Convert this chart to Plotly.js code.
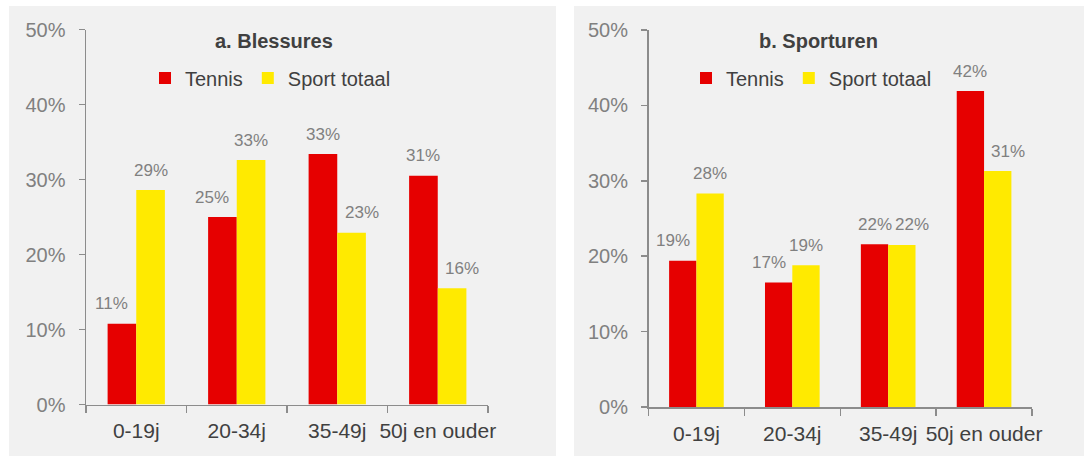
<!DOCTYPE html>
<html>
<head>
<meta charset="utf-8">
<script src="https://cdn.plot.ly/plotly-3.0.1.min.js"></script>
<style>
  html, body { margin: 0; padding: 0; background: #ffffff; }
  #chart { width: 1085px; height: 457px; }
</style>
</head>
<body>
<div id="chart"></div>
<script>
// Age groups shown on both panels
const ageGroups = ['0-19j', '20-34j', '35-49j', '50j en ouder'];

// Panel a: share of injuries per age group
const blessuresTennis = [0.1075, 0.250, 0.334, 0.305];
const blessuresTotaal = [0.286, 0.326, 0.229, 0.155];

// Panel b: share of sport hours per age group
const sporturenTennis = [0.194, 0.165, 0.216, 0.419];
const sporturenTotaal = [0.283, 0.188, 0.215, 0.313];

const seriesNames = ['Tennis', 'Sport totaal'];
const panelTitles = ['a. Blessures', 'b. Sporturen'];

const RED = '#e60000';
const YELLOW = '#ffea00';
const AXIS = '#8c8c8c';
const DARK = '#404040';
const GREY = '#808080';
const FONT = 'Liberation Sans, Arial, sans-serif';

const W = 1085, H = 457;
const px = v => v / W;           // horizontal pixel -> paper
const py = v => (H - v) / H;     // vertical pixel from top -> paper

const BARGAP = 0.43;

function bar(name, values, color, xa, ya, legendId) {
  return {
    type: 'bar', name: name, x: ageGroups, y: values,
    xaxis: xa, yaxis: ya, legend: legendId,
    marker: { color: color, line: { width: 0 } },
    hoverinfo: 'skip'
  };
}

const data = [
  bar(seriesNames[0], blessuresTennis, RED, 'x', 'y', 'legend'),
  bar(seriesNames[1], blessuresTotaal, YELLOW, 'x', 'y', 'legend'),
  bar(seriesNames[0], sporturenTennis, RED, 'x2', 'y2', 'legend2'),
  bar(seriesNames[1], sporturenTotaal, YELLOW, 'x2', 'y2', 'legend2')
];

// Value labels above each bar, centred on the bar's slot within its group.
// A label whose neighbouring bar is taller is pushed outwards (dir = -1 for
// the left bar, +1 for the right bar) so it clears that neighbour.
const half = (1 - BARGAP) / 4;   // centre of each bar, in category units
function valueLabels(values, other, dir, xref, yref) {
  return values.map((v, i) => ({
    x: i + dir * half, y: v, xref: xref, yref: yref,
    text: Math.round(v * 100) + '%',
    showarrow: false, yshift: 20, yanchor: 'middle', xanchor: 'center',
    xshift: other[i] > v ? dir * 10 : 0,
    font: { family: FONT, size: 17, color: GREY }
  }));
}

const annotations = []
  .concat(valueLabels(blessuresTennis, blessuresTotaal, -1, 'x', 'y'))
  .concat(valueLabels(blessuresTotaal, blessuresTennis, 1, 'x', 'y'))
  .concat(valueLabels(sporturenTennis, sporturenTotaal, -1, 'x2', 'y2'))
  .concat(valueLabels(sporturenTotaal, sporturenTennis, 1, 'x2', 'y2'));

annotations.push(
  { text: '<b>' + panelTitles[0] + '</b>', xref: 'paper', yref: 'paper',
    x: px(274), y: py(41), showarrow: false, xanchor: 'center', yanchor: 'middle',
    font: { family: FONT, size: 20, color: DARK } },
  { text: '<b>' + panelTitles[1] + '</b>', xref: 'paper', yref: 'paper',
    x: px(818), y: py(41), showarrow: false, xanchor: 'center', yanchor: 'middle',
    font: { family: FONT, size: 20, color: DARK } }
);

function xAxis(domain, anchor) {
  return {
    domain: domain, anchor: anchor, type: 'category',
    showline: true, linecolor: AXIS, linewidth: 1.5,
    ticks: 'outside', tickson: 'boundaries', ticklen: 7, tickcolor: AXIS, tickwidth: 1.5,
    tickangle: 0, ticklabelstandoff: 7,
    tickfont: { family: FONT, size: 21, color: DARK },
    showgrid: false, zeroline: false, fixedrange: true
  };
}
function yAxis(domain, anchor) {
  return {
    domain: domain, anchor: anchor, range: [0, 0.5],
    tickformat: '.0%', dtick: 0.1, tick0: 0,
    showline: true, linecolor: AXIS, linewidth: 1.5,
    ticks: 'outside', ticklen: 6, tickcolor: AXIS, tickwidth: 1.5,
    ticklabelstandoff: 9,
    tickfont: { family: FONT, size: 20, color: GREY },
    showgrid: false, zeroline: false, fixedrange: true
  };
}

function legendAt(xPix) {
  return {
    orientation: 'h', x: px(xPix), y: py(78), xanchor: 'left', yanchor: 'middle',
    bgcolor: 'rgba(0,0,0,0)', borderwidth: 0,
    font: { family: FONT, size: 20, color: DARK },
    itemwidth: 30, traceorder: 'normal', itemclick: false, itemdoubleclick: false
  };
}

const layout = {
  width: W, height: H,
  margin: { l: 0, r: 0, t: 0, b: 0, pad: 0 },
  paper_bgcolor: '#ffffff',
  plot_bgcolor: 'rgba(0,0,0,0)',
  barmode: 'group', bargap: BARGAP, bargroupgap: 0,
  showlegend: true,
  xaxis: xAxis([px(86), px(488)], 'y'),
  yaxis: yAxis([py(404.5), py(29.5)], 'x'),
  xaxis2: xAxis([px(648.5), px(1032)], 'y2'),
  yaxis2: yAxis([py(407), py(30)], 'x2'),
  legend: legendAt(145),
  legend2: legendAt(686),
  annotations: annotations,
  shapes: [
    { type: 'rect', xref: 'paper', yref: 'paper', layer: 'below',
      x0: px(9), x1: px(556), y0: py(456), y1: py(6),
      fillcolor: '#f1f1f1', line: { width: 0 } },
    { type: 'rect', xref: 'paper', yref: 'paper', layer: 'below',
      x0: px(574), x1: px(1084), y0: py(456), y1: py(6),
      fillcolor: '#f1f1f1', line: { width: 0 } }
  ]
};

Plotly.newPlot('chart', data, layout, { displayModeBar: false, staticPlot: true });
</script>
</body>
</html>
